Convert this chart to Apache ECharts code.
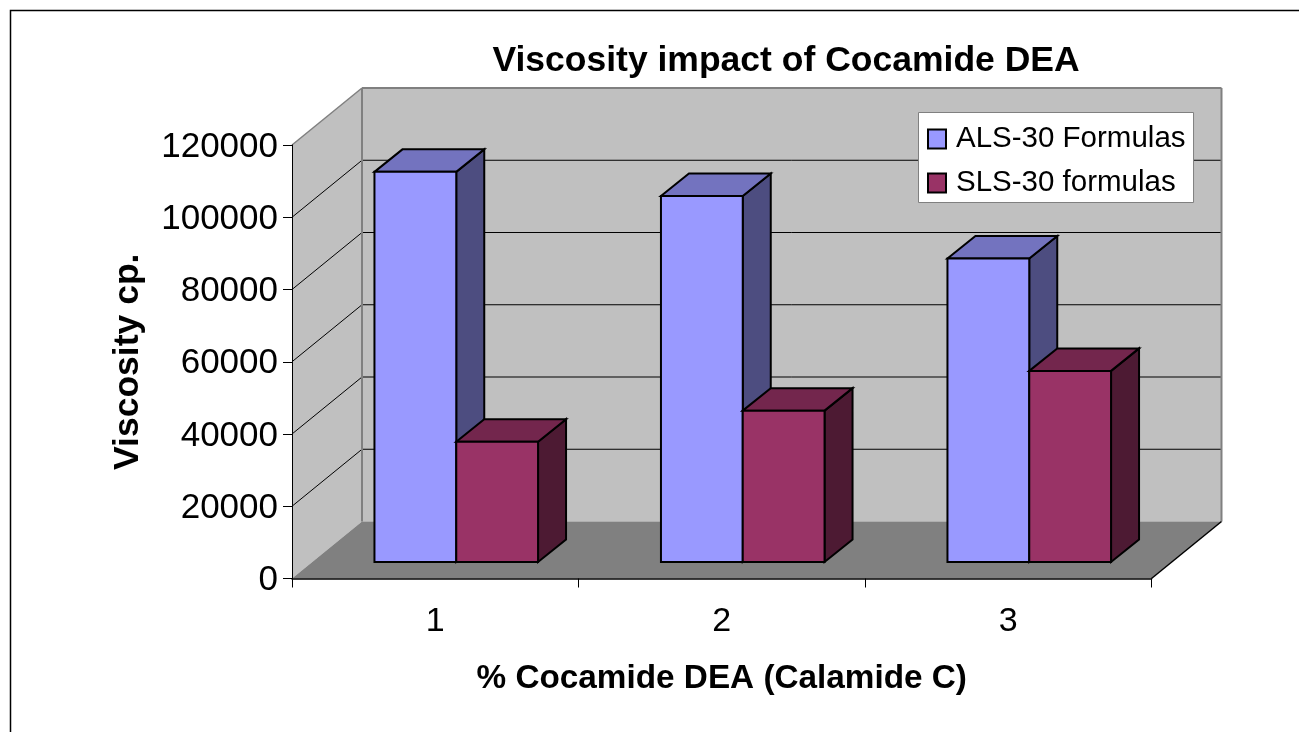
<!DOCTYPE html>
<html>
<head>
<meta charset="utf-8">
<style>html,body{margin:0;padding:0;background:#fff}#chart{width:1299px;height:732px}</style>
<script src="https://cdn.jsdelivr.net/npm/echarts@6/dist/echarts.min.js"></script>
</head>
<body>
<div id="chart"></div>
<script>
const categories = ['1', '2', '3'];
const alsValues = [108000, 101300, 84000];
const slsValues = [33300, 41900, 52900];
const yTicks = [0, 20000, 40000, 60000, 80000, 100000, 120000];

// depth of the fake 3d box, in px
const wallDx = 70, wallDy = 57;
const barDx = 28, barDy = 22.5;
const barOffX = 21, barOffY = 16.5;
const barShare = 0.2855;

const FONT = '"Liberation Sans", Arial, sans-serif';

function poly(points, fill, stroke, lineWidth) {
    return {
        type: 'polygon',
        shape: { points: points },
        style: { fill: fill, stroke: stroke || 'none', lineWidth: lineWidth || 0 }
    };
}

function line(a, b, stroke, lineWidth) {
    return {
        type: 'line',
        shape: { x1: a[0], y1: a[1], x2: b[0], y2: b[1] },
        style: { stroke: stroke, lineWidth: lineWidth || 1 }
    };
}

function renderWalls(params, api) {
    const x0 = api.coord([0, 0])[0] - api.size([1, 0])[0] / 2;
    const x1 = x0 + api.size([1, 0])[0] * categories.length;
    const y0 = api.coord([0, 0])[1];
    const yT = api.coord([0, yTicks[yTicks.length - 1]])[1];
    const children = [
        poly([[x0 + wallDx, yT - wallDy], [x1 + wallDx, yT - wallDy], [x1 + wallDx, y0 - wallDy], [x0 + wallDx, y0 - wallDy]], '#c0c0c0'),
        poly([[x0, yT], [x0 + wallDx, yT - wallDy], [x0 + wallDx, y0 - wallDy], [x0, y0]], '#c0c0c0'),
        poly([[x0, y0], [x0 + wallDx, y0 - wallDy], [x1 + wallDx, y0 - wallDy], [x1, y0]], '#808080')
    ];
    yTicks.slice(1, -1).forEach(t => {
        const y = api.coord([0, t])[1];
        children.push(line([x0, y], [x0 + wallDx, y - wallDy], '#000'));
        children.push(line([x0 + wallDx, y - wallDy], [x1 + wallDx, y - wallDy], '#000'));
    });
    children.push(line([x0, yT], [x0 + wallDx, yT - wallDy], '#808080', 1.5));
    children.push(line([x0 + wallDx, yT - wallDy], [x1 + wallDx, yT - wallDy], '#808080', 2));
    children.push(line([x0 + wallDx, yT - wallDy], [x0 + wallDx, y0 - wallDy], '#808080', 2));
    children.push(line([x1 + wallDx, yT - wallDy], [x1 + wallDx, y0 - wallDy], '#808080', 2));
    children.push(line([x1, y0], [x1 + wallDx, y0 - wallDy], '#000', 1.5));
    return { type: 'group', children: children };
}

function barRenderer(side, front, top, dark) {
    return function (params, api) {
        const cat = api.value(0);
        const w = api.size([1, 0])[0] * barShare;
        const base = api.coord([cat, 0]);
        const head = api.coord([cat, api.value(1)]);
        const l = base[0] + barOffX + side * w;
        const r = l + w;
        const b = base[1] - barOffY;
        const t = head[1] - barOffY;
        return {
            type: 'group',
            children: [
                poly([[r, t], [r + barDx, t - barDy], [r + barDx, b - barDy], [r, b]], dark, '#000', 2),
                poly([[l, t], [l + barDx, t - barDy], [r + barDx, t - barDy], [r, t]], top, '#000', 2),
                poly([[l, t], [r, t], [r, b], [l, b]], front, '#000', 2)
            ]
        };
    };
}

const chart = echarts.init(document.getElementById('chart'), null, { renderer: 'canvas' });
chart.setOption({
    animation: false,
    backgroundColor: '#fff',
    title: {
        text: 'Viscosity impact of Cocamide DEA',
        left: 781,
        top: 38,
        textAlign: 'center',
        textStyle: { fontFamily: FONT, fontSize: 35.5, fontWeight: 'bold', color: '#000' }
    },
    legend: {
        data: [
            { name: 'ALS-30 Formulas', icon: 'rect' },
            { name: 'SLS-30 formulas', icon: 'rect' }
        ],
        orient: 'vertical',
        left: 918.5,
        top: 112.5,
        padding: [8, 8, 1, 8.5],
        itemWidth: 18,
        itemHeight: 19,
        itemGap: 7,
        backgroundColor: '#fff',
        borderColor: '#808080',
        borderWidth: 1,
        borderRadius: 0,
        z: 20,
        textStyle: { fontFamily: FONT, fontSize: 29.5, color: '#000', padding: [3, 0, 0, 5], lineHeight: 34 }
    },
    graphic: [{
        type: 'polyline',
        silent: true,
        shape: { points: [[10.5, 732], [10.5, 10.5], [1299, 10.5]] },
        style: { stroke: '#000', lineWidth: 1.5, fill: 'none' }
    }],
    grid: { left: 292, top: 145, width: 859.5, height: 433.5 },
    xAxis: {
        type: 'category',
        data: categories,
        name: '% Cocamide DEA (Calamide C)',
        nameLocation: 'middle',
        nameGap: 84,
        nameTextStyle: { fontFamily: FONT, fontSize: 33.3, fontWeight: 'bold', color: '#000' },
        axisLine: { show: true, onZero: false, lineStyle: { color: '#000', width: 1.5 } },
        axisTick: { show: true, length: 9, lineStyle: { color: '#000' } },
        axisLabel: { fontFamily: FONT, fontSize: 34, color: '#000', margin: 26 },
        splitLine: { show: false },
        z: 5
    },
    yAxis: {
        type: 'value',
        min: yTicks[0],
        max: yTicks[yTicks.length - 1],
        interval: yTicks[1] - yTicks[0],
        name: 'Viscosity cp.',
        nameLocation: 'middle',
        nameGap: 146,
        nameRotate: 90,
        nameTextStyle: { fontFamily: FONT, fontSize: 35.5, fontWeight: 'bold', color: '#000' },
        axisLine: { show: true, lineStyle: { color: '#000', width: 1 } },
        axisTick: { show: true, length: 9, lineStyle: { color: '#000' } },
        axisLabel: {
            color: '#000',
            margin: 14,
            formatter: v => '{t|' + v + '}',
            rich: { t: { fontFamily: FONT, fontSize: 35, color: '#000', padding: [4, 0, 0, 0] } }
        },
        splitLine: { show: false },
        z: 5
    },
    series: [
        {
            type: 'custom',
            silent: true,
            z: 1,
            renderItem: renderWalls,
            data: [[0, 0]],
            encode: { x: 0, y: 1 }
        },
        {
            name: 'ALS-30 Formulas',
            type: 'custom',
            z: 3,
            itemStyle: { color: '#9999ff', borderColor: '#000', borderWidth: 2 },
            renderItem: barRenderer(-1, '#9999ff', '#7373bf', '#4d4d80'),
            data: alsValues.map((v, i) => [i, v]),
            encode: { x: 0, y: 1 }
        },
        {
            name: 'SLS-30 formulas',
            type: 'custom',
            z: 4,
            itemStyle: { color: '#993366', borderColor: '#000', borderWidth: 2 },
            renderItem: barRenderer(0, '#993366', '#73264d', '#4d1a33'),
            data: slsValues.map((v, i) => [i, v]),
            encode: { x: 0, y: 1 }
        }
    ]
});
</script>
</body>
</html>
